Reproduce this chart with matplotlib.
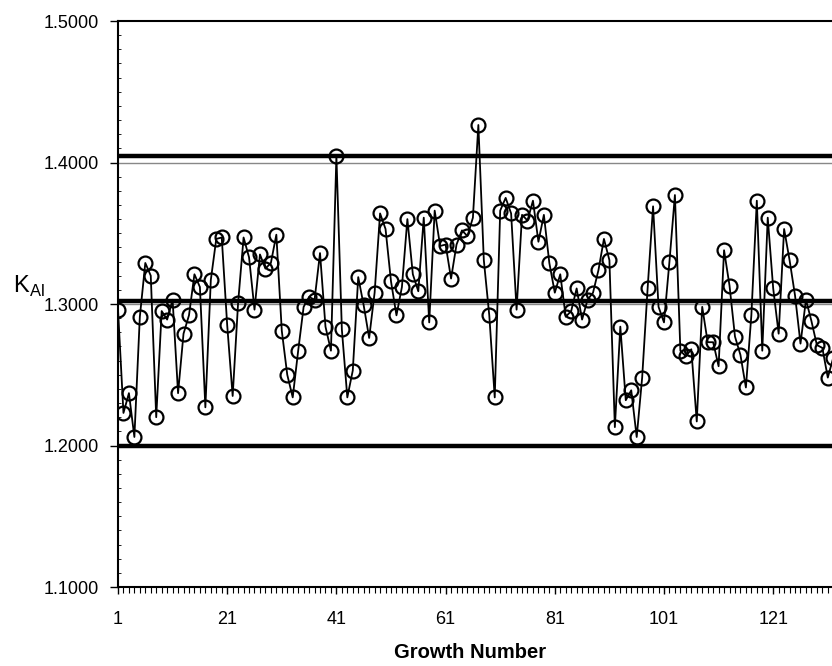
import matplotlib
matplotlib.use("Agg")
import matplotlib.pyplot as plt
import numpy as np
from matplotlib.ticker import MultipleLocator, FixedLocator

plt.rcParams['font.family'] = ['Liberation Sans', 'DejaVu Sans']
plt.rcParams['mathtext.fontset'] = 'custom'
plt.rcParams['mathtext.rm'] = 'Liberation Sans'

# K_Al per growth run
k_al = [1.296, 1.223, 1.237, 1.206, 1.291, 1.329, 1.320, 1.220, 1.295, 1.289,
        1.303, 1.237, 1.279, 1.292, 1.321, 1.312, 1.227, 1.317, 1.346, 1.347,
        1.285, 1.235, 1.301, 1.347, 1.333, 1.296, 1.335, 1.325, 1.329, 1.349,
        1.281, 1.250, 1.234, 1.267, 1.298, 1.305, 1.303, 1.336, 1.284, 1.267,
        1.4046, 1.282, 1.234, 1.253, 1.319, 1.299, 1.276, 1.308, 1.364, 1.353,
        1.316, 1.292, 1.312, 1.360, 1.321, 1.309, 1.361, 1.287, 1.366, 1.341,
        1.342, 1.318, 1.342, 1.352, 1.348, 1.361, 1.4265, 1.331, 1.292, 1.234,
        1.366, 1.375, 1.364, 1.296, 1.363, 1.359, 1.373, 1.344, 1.363, 1.329,
        1.308, 1.321, 1.291, 1.295, 1.311, 1.289, 1.303, 1.308, 1.324, 1.346,
        1.331, 1.213, 1.284, 1.232, 1.239, 1.206, 1.248, 1.311, 1.369, 1.298,
        1.287, 1.330, 1.377, 1.267, 1.263, 1.268, 1.217, 1.298, 1.273, 1.273,
        1.256, 1.338, 1.313, 1.277, 1.264, 1.241, 1.292, 1.373, 1.267, 1.361,
        1.311, 1.279, 1.353, 1.331, 1.306, 1.272, 1.303, 1.288, 1.271, 1.269,
        1.248, 1.262]
growth = np.arange(1, len(k_al) + 1)

# control limits: thick = mean +/- 3 sigma, thin = nominal
thick_lines = [1.4046, 1.3023, 1.2000]
thin_lines = [1.4000, 1.3000]

x_ticks = [1, 21, 41, 61, 81, 101, 121]

fig = plt.figure(figsize=(8.32, 6.66), dpi=100)
ax = fig.add_axes([118 / 832, 1 - 587 / 666, 1 - 118 / 832, (587 - 21) / 666])

for y in thin_lines:
    ax.axhline(y, color='#888888', lw=1.0, zorder=1)
for y in thick_lines:
    ax.axhline(y, color='black', lw=3.2, zorder=2)

ax.plot(growth, k_al, color='black', lw=1.3, marker='o', markersize=10,
        markerfacecolor='none', markeredgecolor='black', markeredgewidth=1.6,
        zorder=3)

ax.set_xlim(1, 131.77)
ax.set_ylim(1.1, 1.5)

ax.xaxis.set_major_locator(FixedLocator(x_ticks))
ax.xaxis.set_minor_locator(MultipleLocator(1))
ax.set_xticklabels([str(t) for t in x_ticks])
ax.yaxis.set_major_locator(MultipleLocator(0.1))
ax.yaxis.set_minor_locator(MultipleLocator(0.01))
ax.yaxis.set_major_formatter(matplotlib.ticker.FormatStrFormatter('%.4f'))

ax.tick_params(axis='x', which='major', length=5, width=1, direction='out', labelsize=13, pad=12)
ax.tick_params(axis='x', which='minor', length=4, width=0.8, direction='out')
ax.tick_params(axis='y', which='major', length=6, width=1, direction='out', labelsize=13, pad=8)
ax.tick_params(axis='y', which='minor', length=2, width=0.6, direction='in')

for side in ['left', 'bottom', 'top']:
    ax.spines[side].set_linewidth(1.5)
ax.spines['right'].set_visible(False)

fig.text(470 / 832, 1 - 652 / 666, 'Growth Number', fontsize=14.5, fontweight='bold',
         ha='center', va='center')
fig.text(13 / 832, 1 - 286 / 666, r'K$_{\mathrm{Al}}$', fontsize=17,
         ha='left', va='center')

fig.savefig('out.png', dpi=100)
